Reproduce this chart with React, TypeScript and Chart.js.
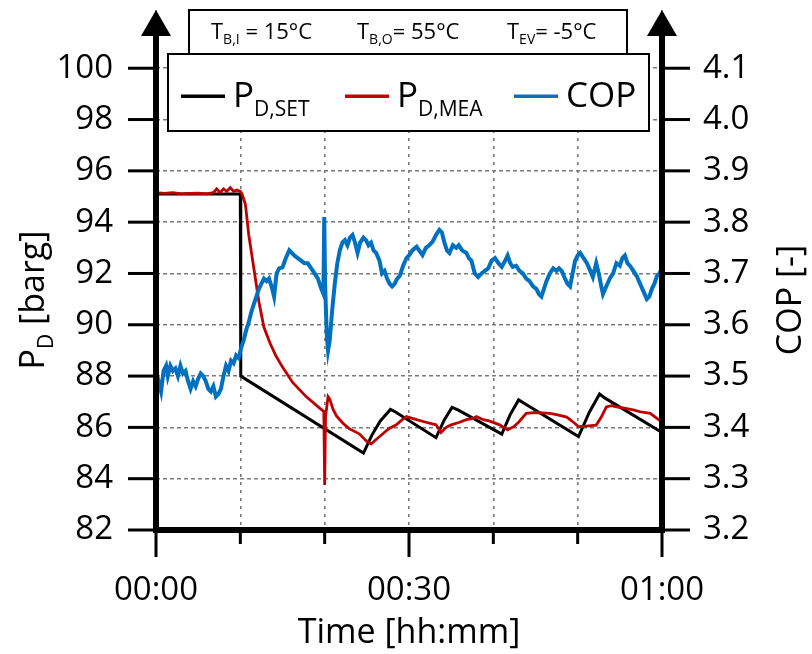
import React, { useEffect, useRef } from 'react';
import { Chart, registerables } from 'chart.js';

Chart.register(...registerables);

const FONT = '"Open Sans", "Noto Sans", sans-serif';

// ---- ticks ----
const xTickValues = [0, 10, 20, 30, 40, 50, 60];
const xTickLabels = ['00:00', '', '', '00:30', '', '', '01:00'];
const xMajorTicks = [0, 30, 60];
const yLeftTicks = [82, 84, 86, 88, 90, 92, 94, 96, 98, 100];
const yRightTicks = [3.2, 3.3, 3.4, 3.5, 3.6, 3.7, 3.8, 3.9, 4.0, 4.1];

// ---- P_D,SET (barg) ----
const setTime = [0, 10.0, 10.05, 24.6, 25.6, 26.6, 27.8, 28.4, 33.2, 34.2, 35.1, 35.8, 41.0, 42.0, 43.0, 43.6, 50.1, 51.4, 52.6, 53.2, 60];
const setValues = [95.1, 95.1, 88.0, 85.0, 85.7, 86.25, 86.7, 86.6, 85.6, 86.3, 86.78, 86.68, 85.74, 86.5, 87.07, 86.95, 85.64, 86.6, 87.3, 87.15, 85.8];

// ---- P_D,MEA (barg) ----
const meaTime = [0, 1, 2, 3, 4, 5, 6, 6.8, 7.2, 7.6, 8.0, 8.4, 8.8, 9.2, 9.6, 10.0, 10.2, 10.6, 11.0, 11.6, 12.2, 12.8, 13.5, 14.2, 15.0, 16.2, 17.8, 19.4, 19.9, 20.0, 20.1, 20.4, 20.6, 21.0, 21.4, 22.2, 22.9, 24.1, 25.0, 25.5, 26.0, 26.9, 27.6, 28.5, 29.2, 29.7, 30.4, 30.9, 32.0, 33.2, 33.8, 34.4, 35.0, 36.0, 36.8, 37.6, 38.0, 38.8, 39.5, 40.75, 41.7, 42.5, 43.0, 43.9, 45.0, 46.7, 47.5, 48.7, 49.5, 50.1, 51.0, 52.2, 52.8, 53.4, 54.0, 54.6, 55.5, 56.6, 57.5, 58.6, 59.2, 60];
const meaValues = [95.15, 95.12, 95.15, 95.1, 95.12, 95.13, 95.1, 95.15, 95.3, 95.15, 95.3, 95.2, 95.35, 95.2, 95.25, 95.2, 95.1, 94.7, 93.5, 92.2, 90.9, 89.9, 89.3, 88.8, 88.35, 87.75, 87.2, 86.75, 86.62, 83.75, 86.4, 87.2, 87.1, 86.7, 86.45, 86.15, 85.95, 85.75, 85.45, 85.35, 85.5, 85.75, 85.95, 86.1, 86.3, 86.42, 86.35, 86.3, 86.2, 86.1, 85.8, 86.0, 86.1, 86.2, 86.3, 86.35, 86.42, 86.3, 86.25, 86.1, 85.9, 86.05, 86.2, 86.55, 86.58, 86.55, 86.5, 86.4, 86.2, 86.03, 86.05, 86.09, 86.4, 86.8, 86.85, 86.8, 86.75, 86.68, 86.6, 86.55, 86.4, 86.2];

// ---- COP (-) ----
const copTime = [0.0, 0.3, 0.6, 0.9, 1.2, 1.4, 1.7, 2.0, 2.3, 2.6, 2.9, 3.2, 3.5, 3.8, 4.1, 4.4, 4.7, 5.0, 5.3, 5.6, 5.9, 6.2, 6.5, 6.8, 7.1, 7.4, 7.7, 8.0, 8.3, 8.6, 8.9, 9.2, 9.5, 9.8, 10.1, 10.4, 10.7, 11.0, 11.3, 11.6, 11.9, 12.2, 12.5, 12.8, 13.1, 13.4, 13.7, 14.0, 14.3, 14.6, 15.0, 15.4, 15.8, 16.1, 16.4, 16.8, 17.2, 17.6, 18.0, 18.4, 18.8, 19.2, 19.6, 19.85, 19.95, 20.05, 20.25, 20.4, 20.6, 20.9, 21.2, 21.5, 21.8, 22.1, 22.4, 22.7, 23.0, 23.3, 23.6, 23.9, 24.2, 24.6, 24.9, 25.2, 25.5, 25.8, 26.1, 26.5, 26.8, 27.1, 27.4, 27.7, 28.0, 28.3, 28.6, 28.9, 29.3, 29.7, 30.0, 30.4, 30.9, 31.2, 31.6, 32.0, 32.4, 32.8, 33.2, 33.6, 33.9, 34.2, 34.5, 34.8, 35.2, 35.6, 35.9, 36.3, 36.8, 37.1, 37.4, 37.8, 38.2, 38.6, 39.0, 39.4, 39.8, 40.2, 40.6, 41.0, 41.4, 41.7, 42.0, 42.3, 42.7, 43.1, 43.5, 43.9, 44.3, 44.7, 45.1, 45.4, 45.7, 46.0, 46.3, 46.7, 47.1, 47.5, 47.8, 48.1, 48.5, 48.8, 49.1, 49.4, 49.7, 50.0, 50.3, 50.7, 51.1, 51.5, 51.8, 52.2, 52.5, 52.8, 53.0, 53.4, 53.8, 54.2, 54.6, 55.0, 55.3, 55.6, 55.9, 56.2, 56.6, 57.0, 57.4, 57.8, 58.2, 58.5, 58.8, 59.1, 59.4, 59.7, 60.0];
const copValues = [3.46, 3.49, 3.47, 3.51, 3.52, 3.50, 3.52, 3.51, 3.515, 3.50, 3.52, 3.505, 3.51, 3.49, 3.475, 3.49, 3.48, 3.495, 3.505, 3.50, 3.49, 3.475, 3.47, 3.48, 3.46, 3.465, 3.475, 3.50, 3.52, 3.51, 3.53, 3.525, 3.54, 3.535, 3.555, 3.57, 3.59, 3.605, 3.625, 3.64, 3.655, 3.67, 3.68, 3.69, 3.685, 3.69, 3.675, 3.655, 3.70, 3.71, 3.712, 3.73, 3.745, 3.74, 3.735, 3.73, 3.725, 3.72, 3.72, 3.71, 3.70, 3.69, 3.67, 3.66, 3.81, 3.68, 3.58, 3.55, 3.57, 3.63, 3.68, 3.72, 3.745, 3.76, 3.765, 3.755, 3.77, 3.775, 3.76, 3.74, 3.76, 3.77, 3.765, 3.755, 3.76, 3.745, 3.74, 3.725, 3.70, 3.705, 3.69, 3.68, 3.675, 3.68, 3.69, 3.695, 3.715, 3.73, 3.735, 3.745, 3.752, 3.745, 3.736, 3.75, 3.755, 3.762, 3.775, 3.785, 3.78, 3.76, 3.745, 3.74, 3.755, 3.75, 3.755, 3.745, 3.74, 3.73, 3.725, 3.70, 3.693, 3.70, 3.705, 3.71, 3.725, 3.73, 3.72, 3.713, 3.725, 3.735, 3.72, 3.713, 3.715, 3.705, 3.70, 3.69, 3.685, 3.675, 3.67, 3.66, 3.655, 3.67, 3.685, 3.70, 3.71, 3.705, 3.71, 3.705, 3.69, 3.68, 3.675, 3.70, 3.725, 3.735, 3.74, 3.73, 3.72, 3.705, 3.693, 3.72, 3.70, 3.675, 3.66, 3.675, 3.69, 3.70, 3.72, 3.715, 3.73, 3.735, 3.72, 3.715, 3.705, 3.695, 3.68, 3.665, 3.65, 3.655, 3.67, 3.68, 3.695, 3.70, 3.71];

const toPoints = (xs: number[], ys: number[]) => xs.map((x, i) => ({ x, y: ys[i] }));

function drawSubText(ctx: CanvasRenderingContext2D, x: number, y: number, parts: { t: string; size: number; dy: number }[]) {
  let cx = x;
  for (const p of parts) {
    ctx.font = `${p.size}px ${FONT}`;
    ctx.fillText(p.t, cx, y + p.dy);
    cx += ctx.measureText(p.t).width;
  }
  return cx;
}
function measureSubText(ctx: CanvasRenderingContext2D, parts: { t: string; size: number; dy: number }[]) {
  let w = 0;
  for (const p of parts) {
    ctx.font = `${p.size}px ${FONT}`;
    w += ctx.measureText(p.t).width;
  }
  return w;
}

const decorPlugin = {
  id: 'decor',
  afterDraw(chart: any) {
    const { ctx, chartArea } = chart;
    const { left, right, bottom } = chartArea;
    const sx = chart.scales.x;
    const sy = chart.scales.y;
    ctx.save();
    ctx.fillStyle = '#000';
    ctx.textBaseline = 'alphabetic';
    ctx.textAlign = 'left';

    // top condition box
    ctx.fillStyle = '#fff';
    ctx.fillRect(189, 10, 438, 44);
    ctx.strokeStyle = '#000';
    ctx.lineWidth = 2;
    ctx.strokeRect(189, 10, 438, 44);
    ctx.fillStyle = '#000';
    drawSubText(ctx, 211, 39, [{ t: 'T', size: 22, dy: 0 }, { t: 'B,I', size: 14, dy: 5 }, { t: ' = 15°C', size: 22, dy: 0 }]);
    drawSubText(ctx, 357, 39, [{ t: 'T', size: 22, dy: 0 }, { t: 'B,O', size: 14, dy: 5 }, { t: '= 55°C', size: 22, dy: 0 }]);
    drawSubText(ctx, 507, 39, [{ t: 'T', size: 22, dy: 0 }, { t: 'EV', size: 14, dy: 5 }, { t: '= -5°C', size: 22, dy: 0 }]);

    // legend box
    ctx.fillStyle = '#fff';
    ctx.fillRect(168, 54, 481, 77);
    ctx.strokeRect(168, 54, 481, 77);
    const items = [
      { color: '#000000', x: 181, parts: [{ t: 'P', size: 35, dy: 0 }, { t: 'D,SET', size: 21, dy: 9 }] },
      { color: '#c00000', x: 345, parts: [{ t: 'P', size: 35, dy: 0 }, { t: 'D,MEA', size: 21, dy: 9 }] },
      { color: '#0070c0', x: 514, parts: [{ t: 'COP', size: 35, dy: 0 }] },
    ];
    for (const it of items) {
      ctx.fillStyle = it.color;
      ctx.fillRect(it.x, 94.5, 44, 3.5);
      ctx.fillStyle = '#000';
      drawSubText(ctx, it.x + 52, 107, it.parts);
    }

    // axes
    ctx.fillStyle = '#000';
    for (const ax of [left, right]) {
      ctx.fillRect(ax - 3, 34, 6, bottom - 34 + 3);
      ctx.beginPath();
      ctx.moveTo(ax, 10);
      ctx.lineTo(ax - 15, 36);
      ctx.lineTo(ax + 15, 36);
      ctx.closePath();
      ctx.fill();
    }
    ctx.fillRect(left - 3, bottom - 3, right - left + 6, 6);
    for (const v of yLeftTicks) {
      const y = sy.getPixelForValue(v);
      ctx.fillRect(left - 28, y - 1.5, 28, 3);
      ctx.fillRect(right, y - 1.5, 28, 3);
    }
    for (const v of xTickValues) {
      const x = sx.getPixelForValue(v);
      const len = xMajorTicks.includes(v) ? 27 : 14;
      ctx.fillRect(x - 1.5, bottom, 3, len);
    }

    // axis titles
    const yTitle = [{ t: 'P', size: 34, dy: 0 }, { t: 'D', size: 21, dy: 9 }, { t: ' [barg]', size: 34, dy: 0 }];
    ctx.save();
    ctx.translate(44, 300);
    ctx.rotate(-Math.PI / 2);
    drawSubText(ctx, -measureSubText(ctx, yTitle) / 2, 0, yTitle);
    ctx.restore();

    const cTitle = [{ t: 'COP [-]', size: 34, dy: 0 }];
    ctx.save();
    ctx.translate(801, 300);
    ctx.rotate(-Math.PI / 2);
    drawSubText(ctx, -measureSubText(ctx, cTitle) / 2, 0, cTitle);
    ctx.restore();

    const xTitle = [{ t: 'Time [hh:mm]', size: 34, dy: 0 }];
    drawSubText(ctx, (left + right) / 2 - measureSubText(ctx, xTitle) / 2, 643, xTitle);

    ctx.restore();
  },
};

export default function App() {
  const ref = useRef<HTMLCanvasElement>(null);
  useEffect(() => {
    if (!ref.current) return;
    const tickFont = { family: FONT, size: 33 };
    const chart = new Chart(ref.current, {
      type: 'line',
      data: {
        datasets: [
          { label: 'P_D,SET', data: toPoints(setTime, setValues), borderColor: '#000000', borderWidth: 3, pointRadius: 0, yAxisID: 'y', order: 3, tension: 0 },
          { label: 'P_D,MEA', data: toPoints(meaTime, meaValues), borderColor: '#c00000', borderWidth: 2.8, pointRadius: 0, yAxisID: 'y', order: 2, tension: 0 },
          { label: 'COP', data: toPoints(copTime, copValues), borderColor: '#0070c0', borderWidth: 4, pointRadius: 0, yAxisID: 'y1', order: 1, tension: 0 },
        ],
      },
      options: {
        animation: false,
        responsive: false,
        devicePixelRatio: 1,
        layout: { padding: { top: 10, left: 0, right: 0, bottom: 0 } },
        plugins: { legend: { display: false }, tooltip: { enabled: false } },
        events: [],
        scales: {
          x: {
            type: 'linear',
            position: 'bottom',
            min: 0,
            max: 60,
            afterBuildTicks: (s: any) => { s.ticks = xTickValues.map((v) => ({ value: v })); },
            afterFit: (s: any) => { s.height = 124; s.paddingLeft = 0; s.paddingRight = 0; },
            ticks: { callback: (_v: any, i: number) => xTickLabels[i] ?? '', font: tickFont, color: '#000', padding: 41, maxRotation: 0, autoSkip: false },
            grid: { color: '#7a7a7a', lineWidth: 1.6, drawTicks: false },
            border: { display: false, dash: [3, 5] },
          },
          y: {
            type: 'linear',
            position: 'left',
            min: 82,
            max: 102.27,
            afterBuildTicks: (s: any) => { s.ticks = yLeftTicks.map((v) => ({ value: v })); },
            afterFit: (s: any) => { s.width = 156; s.paddingTop = 0; s.paddingBottom = 0; },
            ticks: { callback: (v: any) => String(v), font: tickFont, color: '#000', padding: 43 },
            grid: { color: '#7a7a7a', lineWidth: 1.6, drawTicks: false },
            border: { display: false, dash: [4, 3] },
          },
          y1: {
            type: 'linear',
            position: 'right',
            min: 3.2,
            max: 4.2135,
            afterBuildTicks: (s: any) => { s.ticks = yRightTicks.map((v) => ({ value: v })); },
            afterFit: (s: any) => { s.width = 150; s.paddingTop = 0; s.paddingBottom = 0; },
            ticks: { callback: (v: any) => Number(v).toFixed(1), font: tickFont, color: '#000', padding: 41 },
            grid: { display: false, drawTicks: false },
            border: { display: false },
          },
        },
      },
      plugins: [decorPlugin],
    } as any);
    return () => chart.destroy();
  }, []);
  return (
    <div style={{ position: 'absolute', left: 0, top: 0, width: 812, height: 654, background: '#fff' }}>
      <canvas ref={ref} width={812} height={654} style={{ display: 'block', width: 812, height: 654 }} />
    </div>
  );
}
